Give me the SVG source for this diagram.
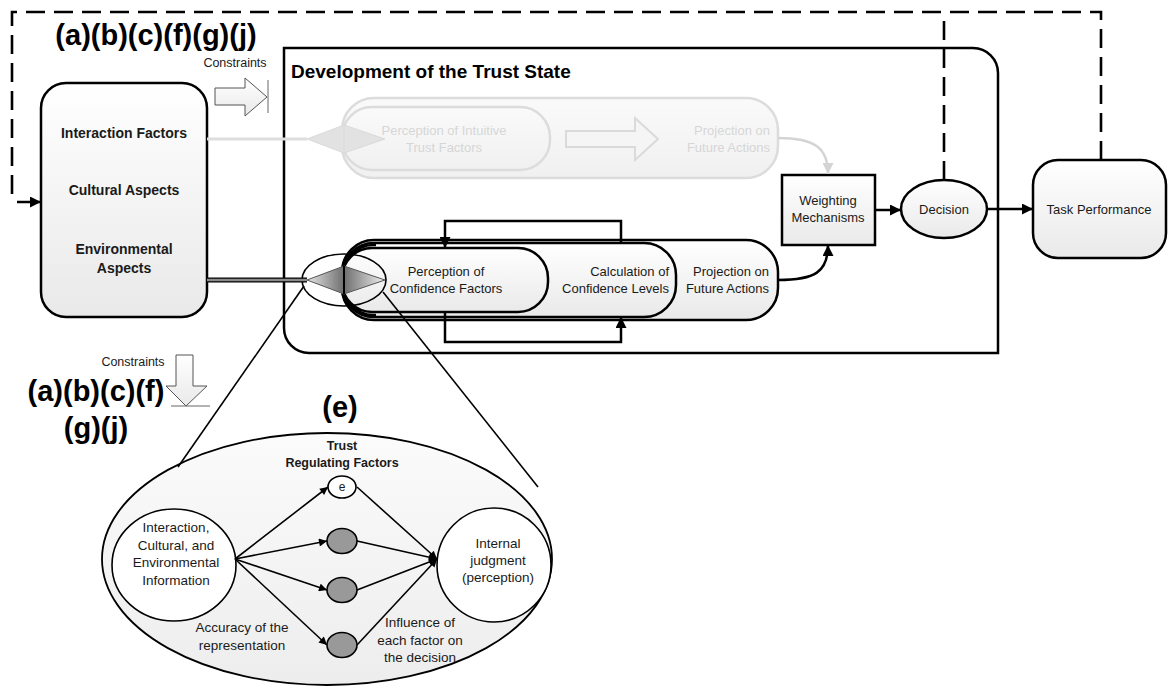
<svg xmlns="http://www.w3.org/2000/svg" width="1168" height="686" viewBox="0 0 1168 686">
  <style>
    .lbl { font-family: "Liberation Sans", Arial, sans-serif; font-size: 13px; fill: #1a1a1a; text-anchor: middle; }
    .b { font-weight: bold; }
    .big { font-family: "Liberation Sans", Arial, sans-serif; font-size: 29px; font-weight: bold; fill: #000; text-anchor: middle; }
    .faded { fill: #d6d6d6; }
    .box { fill: url(#boxGrad); stroke: #000; stroke-width: 2.5; }
    .fbox { fill: url(#fadeGrad); stroke: #dcdcdc; stroke-width: 2.5; }
    .line { fill: none; stroke: #000; stroke-width: 2.5; }
    .thin { fill: none; stroke: #000; stroke-width: 1.6; }
    .dash { fill: none; stroke: #000; stroke-width: 2.6; stroke-dasharray: 19 9; }
  </style>
  <defs>
    <linearGradient id="boxGrad" x1="0" y1="0" x2="0" y2="1">
      <stop offset="0" stop-color="#ffffff"/>
      <stop offset="1" stop-color="#e9e9e9"/>
    </linearGradient>
    <linearGradient id="fadeGrad" x1="0" y1="0" x2="0" y2="1">
      <stop offset="0" stop-color="#fafafa"/>
      <stop offset="1" stop-color="#f0f0f0"/>
    </linearGradient>
    <linearGradient id="ellGrad" x1="0" y1="0" x2="0" y2="1">
      <stop offset="0" stop-color="#fbfbfb"/>
      <stop offset="1" stop-color="#ededed"/>
    </linearGradient>
    <linearGradient id="diaL" x1="0" y1="0" x2="1" y2="0">
      <stop offset="0" stop-color="#e6e6e6"/>
      <stop offset="1" stop-color="#6e6e6e"/>
    </linearGradient>
    <linearGradient id="diaR" x1="0" y1="0" x2="1" y2="0">
      <stop offset="0" stop-color="#6e6e6e"/>
      <stop offset="1" stop-color="#f0f0f0"/>
    </linearGradient>
    <marker id="arr" viewBox="0 0 10 10" refX="10" refY="5" markerWidth="13" markerHeight="11" markerUnits="userSpaceOnUse" orient="auto">
      <path d="M0,0 L10,5 L0,10 z" fill="#000"/>
    </marker>
    <marker id="arrS" viewBox="0 0 10 10" refX="10" refY="5" markerWidth="10" markerHeight="8" markerUnits="userSpaceOnUse" orient="auto">
      <path d="M0,0 L10,5 L0,10 z" fill="#000"/>
    </marker>
    <marker id="arrF" viewBox="0 0 10 10" refX="10" refY="5" markerWidth="13" markerHeight="11" markerUnits="userSpaceOnUse" orient="auto">
      <path d="M0,0 L10,5 L0,10 z" fill="#d4d4d4"/>
    </marker>
  </defs>

  <rect width="1168" height="686" fill="#fff"/>

  <!-- constraint labels -->
  <text class="big" x="156" y="45">(a)(b)(c)(f)(g)(j)</text>
  <text class="big" x="96" y="401">(a)(b)(c)(f)</text>
  <text class="big" x="96" y="438">(g)(j)</text>
  <text class="big" x="340" y="417">(e)</text>

  <g id="constraint-right">
    <text class="lbl" x="235" y="67" style="font-size:12.5px">Constraints</text>
    <path d="M215,88 H245 V78 L267,97 L245,116 V105 H215 Z" fill="url(#boxGrad)" stroke="#555" stroke-width="1"/>
    <line x1="268" y1="80" x2="268" y2="113" stroke="#666" stroke-width="1"/>
  </g>
  <g id="constraint-down">
    <text class="lbl" x="133" y="366" style="font-size:12.5px">Constraints</text>
    <path d="M176,355 H193 V386 H207 L186,406 L166,386 H176 Z" fill="url(#boxGrad)" stroke="#555" stroke-width="1"/>
    <line x1="171" y1="406" x2="210" y2="406" stroke="#666" stroke-width="1"/>
  </g>

  <!-- container for the trust state -->
  <g id="trust-state">
    <path class="line" d="M284,48 H973 A25,25 0 0 1 998,73 V353 H309 A25,25 0 0 1 284,328 Z" fill="#fff"/>
    <text x="291" y="78" style="font-family:'Liberation Sans',Arial,sans-serif;font-size:19px;font-weight:bold;fill:#000">Development of the Trust State</text>
  </g>

  <g id="factors">
    <rect class="box" x="41" y="83" width="166" height="234" rx="25"/>
    <text class="lbl b" x="124" y="138" style="font-size:14px">Interaction Factors</text>
    <text class="lbl b" x="124" y="195" style="font-size:14px">Cultural Aspects</text>
    <text class="lbl b" x="124" y="254" style="font-size:14px">Environmental</text>
    <text class="lbl b" x="124" y="273" style="font-size:14px">Aspects</text>
  </g>

  <!-- intuitive path (inactive) -->
  <g id="intuitive">
    <rect class="fbox" x="342" y="98" width="436" height="80" rx="32"/>
    <rect class="fbox" x="342" y="107" width="208" height="63" rx="30"/>
    <text class="lbl faded" x="444" y="135">Perception of Intuitive</text>
    <text class="lbl faded" x="444" y="152">Trust Factors</text>
    <text class="lbl faded" x="770" y="135" style="text-anchor:end">Projection on</text>
    <text class="lbl faded" x="770" y="152" style="text-anchor:end">Future Actions</text>
    <path d="M566,131 H635 V118 L658,139 L635,160 V147 H566 Z" fill="#f5f5f5" stroke="#dadada" stroke-width="2"/>
    <path d="M307,139 L344,125 L385,139 L344,153 Z" fill="#e2e2e2" stroke="#dadada" stroke-width="1"/>
    <line x1="344" y1="125" x2="344" y2="153" stroke="#dadada" stroke-width="1"/>
  </g>

  <!-- confidence path -->
  <g id="confidence">
    <rect class="box" x="342" y="240" width="436" height="80" rx="32"/>
    <rect class="box" x="342" y="243" width="334" height="74" rx="32"/>
    <path class="line" d="M376,245 H373 A31,35 0 0 0 373,315 H376"/>
    <rect class="box" x="342" y="248" width="206" height="64" rx="30"/>
    <text class="lbl" x="446" y="276">Perception of</text>
    <text class="lbl" x="446" y="293">Confidence Factors</text>
    <text class="lbl" x="669" y="276" style="text-anchor:end">Calculation of</text>
    <text class="lbl" x="669" y="293" style="text-anchor:end">Confidence Levels</text>
    <text class="lbl" x="769" y="276" style="text-anchor:end">Projection on</text>
    <text class="lbl" x="769" y="293" style="text-anchor:end">Future Actions</text>
  </g>

  <g id="selector">
    <ellipse cx="344" cy="280" rx="42" ry="26" fill="none" stroke="#000" stroke-width="1.6"/>
    <path d="M307,280 L344,266 L344,294 Z" fill="url(#diaL)" stroke="#555" stroke-width="1"/>
    <path d="M344,266 L385,280 L344,294 Z" fill="url(#diaR)" stroke="#555" stroke-width="1"/>
    <line x1="344" y1="266" x2="344" y2="294" stroke="#000" stroke-width="2"/>
  </g>

  <g id="weighting">
    <rect class="box" x="782" y="175" width="93" height="70"/>
    <text class="lbl" x="828" y="205">Weighting</text>
    <text class="lbl" x="828" y="222">Mechanisms</text>
  </g>

  <g id="decision">
    <ellipse class="box" cx="944" cy="209" rx="43" ry="29"/>
    <text class="lbl" x="944" y="214">Decision</text>
  </g>

  <g id="task">
    <rect class="box" x="1033" y="160" width="133" height="98" rx="25"/>
    <text class="lbl" x="1099" y="214">Task Performance</text>
  </g>

  <!-- detail of the perception stage -->
  <g id="perception-detail">
    <ellipse cx="327" cy="559" rx="225" ry="126" fill="url(#ellGrad)" stroke="#000" stroke-width="1.8"/>
    <ellipse cx="174" cy="565" rx="62" ry="56" fill="#fff" stroke="#000" stroke-width="1.6"/>
    <text class="lbl" x="176" y="532" style="font-size:13.5px">Interaction,</text>
    <text class="lbl" x="176" y="550" style="font-size:13.5px">Cultural, and</text>
    <text class="lbl" x="176" y="567" style="font-size:13.5px">Environmental</text>
    <text class="lbl" x="176" y="585" style="font-size:13.5px">Information</text>
    <ellipse cx="494" cy="565" rx="57" ry="57" fill="#fff" stroke="#000" stroke-width="1.6"/>
    <text class="lbl" x="498" y="548" style="font-size:13.5px">Internal</text>
    <text class="lbl" x="498" y="565" style="font-size:13.5px">judgment</text>
    <text class="lbl" x="498" y="582" style="font-size:13.5px">(perception)</text>
    <text class="lbl b" x="342" y="450" style="font-size:12.5px">Trust</text>
    <text class="lbl b" x="342" y="467" style="font-size:12.5px">Regulating Factors</text>
    <text class="lbl" x="242" y="632" style="font-size:13.5px">Accuracy of the</text>
    <text class="lbl" x="242" y="650" style="font-size:13.5px">representation</text>
    <text class="lbl" x="420" y="627" style="font-size:13.5px">Influence of</text>
    <text class="lbl" x="420" y="645" style="font-size:13.5px">each factor on</text>
    <text class="lbl" x="420" y="662" style="font-size:13.5px">the decision</text>
    <g stroke="#000" stroke-width="1.6" fill="none" marker-end="url(#arrS)">
      <path d="M235,559 L328,487"/>
      <path d="M235,559 L327,541"/>
      <path d="M235,559 L327,590"/>
      <path d="M235,559 L327,645"/>
      <path d="M357,487 L437,559"/>
      <path d="M357,541 L437,559"/>
      <path d="M357,590 L437,559"/>
      <path d="M357,645 L437,559"/>
    </g>
    <ellipse cx="342" cy="487" rx="14" ry="11" fill="#fff" stroke="#000" stroke-width="1.6"/>
    <text class="lbl" x="342" y="491" style="font-size:12px">e</text>
    <ellipse cx="342" cy="541" rx="15" ry="12.5" fill="#999" stroke="#000" stroke-width="1.6"/>
    <ellipse cx="342" cy="590" rx="15" ry="12.5" fill="#999" stroke="#000" stroke-width="1.6"/>
    <ellipse cx="342" cy="645" rx="15" ry="12.5" fill="#999" stroke="#000" stroke-width="1.6"/>
  </g>

  <g id="connectors">
    <!-- inputs into the two perception paths -->
    <line x1="207" y1="139" x2="307" y2="139" stroke="#dedede" stroke-width="3"/>
    <line x1="207" y1="280" x2="307" y2="280" stroke="#000" stroke-width="5"/>
    <line x1="207" y1="280" x2="307" y2="280" stroke="#8a8a8a" stroke-width="2.4"/>
    <!-- zoom lines toward the detail view -->
    <line class="thin" x1="304" y1="286" x2="178" y2="467"/>
    <line class="thin" x1="383" y1="292" x2="538" y2="487"/>
    <!-- feedback loops between perception and calculation -->
    <path class="line" d="M621,242 V221 H445 V248" marker-end="url(#arr)"/>
    <path class="line" d="M445,312 V342 H621 V317" marker-end="url(#arr)"/>
    <!-- projections into weighting -->
    <path d="M778,138 C815,138 828,148 828,174" fill="none" stroke="#d4d4d4" stroke-width="2.5" marker-end="url(#arrF)"/>
    <path class="line" d="M778,280 C815,280 828,272 828,245" marker-end="url(#arr)"/>
    <!-- weighting to decision to task -->
    <path class="line" d="M875,210 H901" marker-end="url(#arr)"/>
    <path class="line" d="M987,209 H1033" marker-end="url(#arr)"/>
    <!-- dashed feedback -->
    <path class="dash" d="M944,180 V12"/>
    <path class="dash" d="M1101,160 V12 H12 V196"/>
    <path class="line" d="M17,202 H41" marker-end="url(#arr)"/>
  </g>
</svg>
